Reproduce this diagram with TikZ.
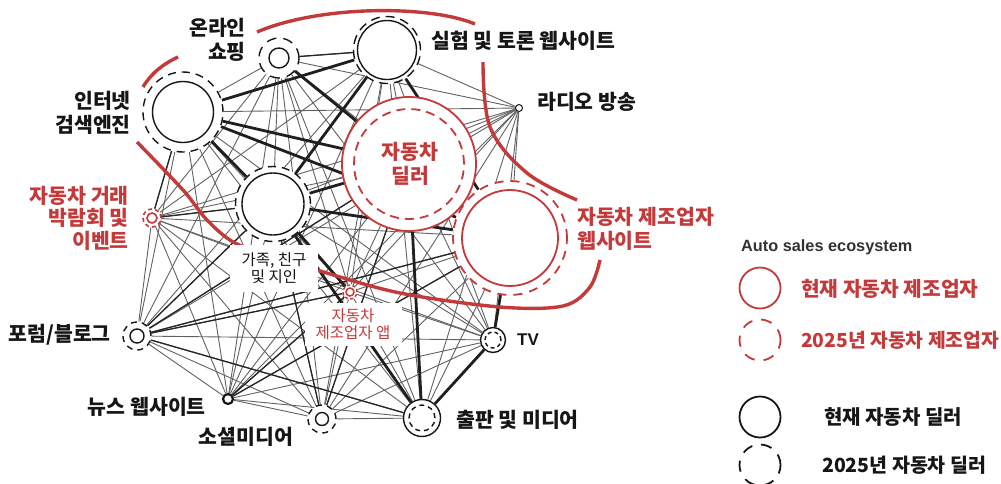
\documentclass[tikz,border=0pt]{standalone}
\usepackage{fontspec}
\setmainfont{Noto Sans CJK KR}
\newfontfamily\arialf{Liberation Sans}
\usetikzlibrary{backgrounds}
\definecolor{redc}{RGB}{196,58,58}
\definecolor{ink}{RGB}{22,22,22}
\definecolor{legtxt}{RGB}{50,50,50}
\begin{document}
\begin{tikzpicture}[x=1pt,y=-1pt,
  hub/.style={circle, inner sep=0pt, minimum size=#1, fill=white},
  bk/.style={draw=ink, line width=1.4pt},
  rd/.style={draw=redc, line width=1.8pt},
  lab/.style={font=\fontsize{20.5}{23.5}\selectfont\bfseries, text=ink, inner sep=0pt, align=#1},
  lab/.default=center,
  rlab/.style={font=\fontsize{20.5}{23.5}\selectfont\bfseries, text=redc, inner sep=0pt, align=#1},
  rlab/.default=center,
  thinedge/.style={draw=black!62, line width=0.9pt},
  midedge/.style={draw=black!85, line width=1.3pt},
  thickedge/.style={draw=black!88, line width=2.8pt},
  redline/.style={draw=redc, line width=3.4pt},
  legc/.style={circle, inner sep=0pt, minimum size=41pt, line width=1.8pt},
]
\useasboundingbox (0,0) rectangle (1001,483);

% ---------- hubs ----------
\node[hub=40pt, bk, dash pattern=on 10pt off 7pt] (S) at (279,58) {};
\draw[bk] (S.center) circle (10pt);
\node[hub=67pt, bk, dash pattern=on 9pt off 6pt] (E) at (387,50) {};
\draw[bk] (E.center) circle (29.5pt);
\node[hub=80pt, bk, dash pattern=on 8pt off 6pt] (G) at (183,112) {};
\draw[bk] (G.center) circle (30.5pt);
\node[hub=7pt, draw=ink, line width=1pt] (R) at (519,108) {};
\node[hub=134pt, rd] (D) at (409,164) {};
\draw[rd, dash pattern=on 9pt off 6pt] (D.center) circle (55pt);
\node[hub=114pt, rd, dash pattern=on 9pt off 7pt] (W) at (510,238) {};
\draw[rd] (W.center) circle (48pt);
\node[hub=75pt, bk, dash pattern=on 8pt off 6pt] (F) at (273,204) {};
\draw[bk] (F.center) circle (31pt);
\node[hub=18pt, rd, line width=1.6pt, dash pattern=on 4pt off 3pt] (T) at (152,218) {};
\draw[rd, line width=1.6pt] (T.center) circle (5pt);
\node[hub=28pt, bk, dash pattern=on 6pt off 5pt] (B) at (137,336) {};
\draw[bk] (B.center) circle (7pt);
\node[hub=10pt, draw=ink, line width=2.2pt] (N) at (228,399) {};
\node[hub=28pt, bk, dash pattern=on 6pt off 5pt] (M) at (322,419) {};
\draw[bk] (M.center) circle (6.5pt);
\node[hub=37pt, bk] (P) at (422,418) {};
\draw[bk, dash pattern=on 5pt off 4pt] (P.center) circle (13pt);
\node[hub=25pt, bk] (V) at (493,340) {};
\draw[bk, dash pattern=on 4pt off 3pt] (V.center) circle (8pt);
\node[hub=14pt, rd, line width=1.5pt, dash pattern=on 3pt off 2.5pt] (A) at (350,292) {};
\draw[rd, line width=1.5pt] (A.center) circle (4pt);

% ---------- label boxes over the web ----------
\node[fill=white, inner sep=0pt, minimum width=88pt, minimum height=47pt, align=center,
      font=\fontsize{15.5}{17.5}\selectfont, text=ink] (FL) at (274,268) {가족, 친구\\및 지인};
\node[fill=white, inner sep=0pt, minimum width=97pt, minimum height=43pt, align=center,
      font=\fontsize{15.5}{17.5}\selectfont, text=redc] (AL) at (353,324) {자동차\\제조업자 앱};

% ---------- connectors and boundaries ----------
\begin{pgfonlayer}{background}
\foreach \a [count=\i] in {S,E,G,R,D,W,F,T,B,N,M,P,V,A} {
  \foreach \b [count=\j] in {S,E,G,R,D,W,F,T,B,N,M,P,V,A} {
    \ifnum\i<\j \draw[thinedge] (\a) -- (\b); \fi
  }
}
\foreach \a/\b in {B/D, B/A, B/P, B/F, N/W, M/F, M/D, T/F, N/A, B/W, E/S, G/T}
  \draw[midedge] (\a) -- (\b);
\foreach \a/\b in {G/E, G/D, G/W, G/F, S/D, E/F, E/W, F/D, F/W, D/P, W/V, V/P, F/P, F/A}
  \draw[thickedge] (\a) -- (\b);

\draw[redline] (257,32) .. controls (320,5) and (430,5) .. (475,24);
\draw[redline] (143,87) .. controls (152,72) and (165,63) .. (178,57);
\draw[redline] plot[smooth, tension=0.55] coordinates {(137,142) (183,190) (207,220) (235,243) (278,258) (320,271) (400,293) (500,307) (563,306) (590,287) (600,260)};
\draw[redline] plot[smooth, tension=0.6] coordinates {(483,62) (490,127) (527,173) (577,200)};
\end{pgfonlayer}

% ---------- labels ----------
\node[lab=right, anchor=east] (LS) at (246,40) {온라인\\쇼핑};
\node[lab=right, anchor=east] (LG) at (131,113) {인터넷\\검색엔진};
\node[lab=left, anchor=west] (LE) at (431,41) {실험 및 토론 웹사이트};
\node[lab=left, anchor=west] (LR) at (537,102) {라디오 방송};
\node[rlab] (LD) at (410,164) {자동차\\딜러};
\node[rlab=left, anchor=west] (LW) at (577,229) {자동차 제조업자\\웹사이트};
\node[rlab=right, anchor=east, font=\fontsize{20.5}{22.5}\selectfont\bfseries] (LT) at (129,218) {자동차 거래\\박람회 및\\이벤트};
\node[lab=right, anchor=east] (LB) at (111,335) {포럼/블로그};
\node[lab=right, anchor=east] (LN) at (206,407) {뉴스 웹사이트};
\node[lab] (LM) at (246,437) {소셜미디어};
\node[lab=left, anchor=west] (LP) at (456,420) {출판 및 미디어};
\node[anchor=west, inner sep=0pt, font=\arialf\bfseries\fontsize{17}{20}\selectfont, text=ink] (LV) at (517,340) {TV};

% ---------- legend ----------
\node[anchor=west, inner sep=0pt, font=\arialf\bfseries\fontsize{16.3}{18}\selectfont, text=legtxt] (LT0) at (741,247) {Auto sales ecosystem};
\node[legc, draw=redc] (L1) at (760,288) {};
\node[legc, draw=redc, dash pattern=on 11pt off 9pt] (L2) at (760,340) {};
\node[legc, draw=ink] (L3) at (760,417) {};
\node[legc, draw=ink, dash pattern=on 11pt off 9pt] (L4) at (760,465) {};
\node[rlab=left, anchor=west, font=\fontsize{20.3}{22}\selectfont\bfseries] (LT1) at (801,289) {현재 자동차 제조업자};
\node[rlab=left, anchor=west, font=\fontsize{19.3}{22}\selectfont\bfseries] (LT2) at (801,340) {2025년 자동차 제조업자};
\node[lab=left, anchor=west, font=\fontsize{20}{22}\selectfont\bfseries] (LT3) at (824,417) {현재 자동차 딜러};
\node[lab=left, anchor=west, font=\fontsize{19.5}{22}\selectfont\bfseries] (LT4) at (822,465) {2025년 자동차 딜러};
\end{tikzpicture}
\end{document}
